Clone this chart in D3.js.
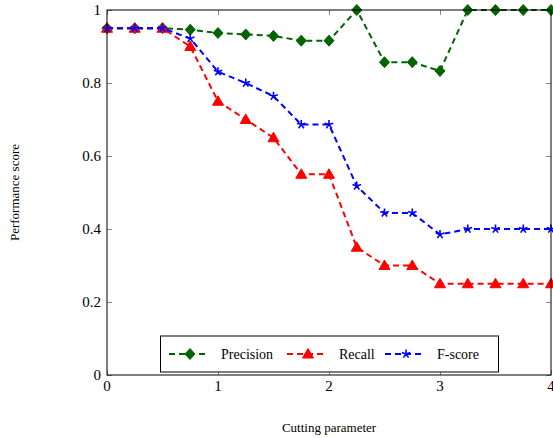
<!DOCTYPE html>
<html>
<head>
<meta charset="utf-8">
<script src="https://cdn.jsdelivr.net/npm/d3@7"></script>
<style>
  body { margin: 0; background: #fff; }
  text { font-family: "Liberation Serif", "DejaVu Serif", serif; fill: #000; }
</style>
</head>
<body>
<script>
var cutting = [0, 0.25, 0.5, 0.75, 1, 1.25, 1.5, 1.75, 2, 2.25, 2.5, 2.75, 3, 3.25, 3.5, 3.75, 4];
var precision = [0.95, 0.95, 0.95, 0.946, 0.937, 0.933, 0.929, 0.916, 0.916, 1.0, 0.857, 0.857, 0.833, 1.0, 1.0, 1.0, 1.0];
var recall = [0.95, 0.95, 0.95, 0.9, 0.75, 0.7, 0.65, 0.55, 0.55, 0.35, 0.3, 0.3, 0.25, 0.25, 0.25, 0.25, 0.25];
var fscore = [0.95, 0.95, 0.95, 0.922, 0.831, 0.8, 0.764, 0.686, 0.686, 0.518, 0.444, 0.444, 0.385, 0.4, 0.4, 0.4, 0.4];
var xTicks = [0, 1, 2, 3, 4];
var yTicks = [0, 0.2, 0.4, 0.6, 0.8, 1];

var width = 553;
var height = 438;
var plotL = 107, plotR = 551, plotT = 10, plotB = 375;

var x = d3.scaleLinear().domain([0, 4]).range([plotL, plotR]);
var y = d3.scaleLinear().domain([0, 1]).range([plotB, plotT]);

var svg = d3.select("body").append("svg")
            .attr("width", width)
            .attr("height", height);

// inward ticks on all sides
var tickColor = "#888";
var tickLen = 5;
function styleTicks(g) {
  g.select(".domain").remove();
  g.selectAll("line").attr("stroke", tickColor);
}
svg.append("g").attr("transform", "translate(0," + plotB + ")")
   .call(d3.axisTop(x).tickValues(xTicks).tickSize(tickLen).tickFormat(""))
   .call(styleTicks);
svg.append("g").attr("transform", "translate(0," + plotT + ")")
   .call(d3.axisBottom(x).tickValues(xTicks).tickSize(tickLen).tickFormat(""))
   .call(styleTicks);
svg.append("g").attr("transform", "translate(" + plotL + ",0)")
   .call(d3.axisRight(y).tickValues(yTicks).tickSize(tickLen).tickFormat(""))
   .call(styleTicks);
svg.append("g").attr("transform", "translate(" + plotR + ",0)")
   .call(d3.axisLeft(y).tickValues(yTicks).tickSize(tickLen).tickFormat(""))
   .call(styleTicks);

// tick labels
svg.selectAll(".xlab").data(xTicks).enter().append("text")
   .attr("x", function(d){ return x(d); })
   .attr("y", plotB + 16)
   .attr("text-anchor", "middle")
   .attr("font-size", 15)
   .text(function(d){ return d; });
svg.selectAll(".ylab").data(yTicks).enter().append("text")
   .attr("x", plotL - 6)
   .attr("y", function(d){ return y(d) + 5; })
   .attr("text-anchor", "end")
   .attr("font-size", 15)
   .text(function(d){ return d; });

// axis titles
svg.append("text")
   .attr("x", (plotL + plotR) / 2)
   .attr("y", 432)
   .attr("text-anchor", "middle")
   .attr("font-size", 13)
   .text("Cutting parameter");
svg.append("text")
   .attr("transform", "translate(19," + ((plotT + plotB) / 2) + ") rotate(-90)")
   .attr("text-anchor", "middle")
   .attr("font-size", 13)
   .text("Performance score");

// markers
function diamond(g, cx, cy, color) {
  g.append("path")
   .attr("d", "M" + cx + "," + (cy - 5.5) + "L" + (cx + 5) + "," + cy + "L" + cx + "," + (cy + 5.5) + "L" + (cx - 5) + "," + cy + "Z")
   .attr("fill", color).attr("stroke", color);
}
function triangle(g, cx, cy, color) {
  g.append("path")
   .attr("d", "M" + cx + "," + (cy - 5.5) + "L" + (cx + 5.5) + "," + (cy + 4) + "L" + (cx - 5.5) + "," + (cy + 4) + "Z")
   .attr("fill", color).attr("stroke", color);
}
function star(g, cx, cy, color) {
  var r = 4.5, d = "";
  for (var i = 0; i < 5; i++) {
    var a = (90 + i * 72) * Math.PI / 180;
    d += "M" + cx + "," + cy + "L" + (cx + r * Math.cos(a)) + "," + (cy - r * Math.sin(a));
  }
  g.append("path").attr("d", d).attr("stroke", color).attr("stroke-width", 1.6).attr("fill", "none");
}

var series = [
  { name: "Precision", values: precision, color: "#006400", mark: diamond },
  { name: "Recall", values: recall, color: "#ff0000", mark: triangle },
  { name: "F-score", values: fscore, color: "#0000ff", mark: star }
];

var line = d3.line()
             .x(function(d){ return x(d[0]); })
             .y(function(d){ return y(d[1]); });

series.forEach(function(s){
  var pts = cutting.map(function(c, i){ return [c, s.values[i]]; });
  svg.append("path")
     .attr("d", line(pts))
     .attr("fill", "none")
     .attr("stroke", s.color)
     .attr("stroke-width", 2)
     .attr("stroke-dasharray", "6,4");
  var g = svg.append("g");
  pts.forEach(function(p){ s.mark(g, x(p[0]), y(p[1]), s.color); });
});

// frame
svg.append("rect")
   .attr("x", plotL).attr("y", plotT)
   .attr("width", plotR - plotL).attr("height", plotB - plotT)
   .attr("fill", "none").attr("stroke", "#000").attr("stroke-width", 1);

// legend
var leg = svg.append("g");
leg.append("rect")
   .attr("x", 160.5).attr("y", 336)
   .attr("width", 338).attr("height", 36)
   .attr("fill", "#fff").attr("stroke", "#000");
var legX = [169, 287, 385];
series.forEach(function(s, i){
  var lx = legX[i], ly = 354;
  leg.append("line")
     .attr("x1", lx).attr("x2", lx + 40)
     .attr("y1", ly).attr("y2", ly)
     .attr("stroke", s.color).attr("stroke-width", 2)
     .attr("stroke-dasharray", "6,4");
  s.mark(leg, lx + 21, ly, s.color);
  leg.append("text")
     .attr("x", lx + 52)
     .attr("y", ly + 5)
     .attr("font-size", 14)
     .text(s.name);
});
</script>
</body>
</html>
